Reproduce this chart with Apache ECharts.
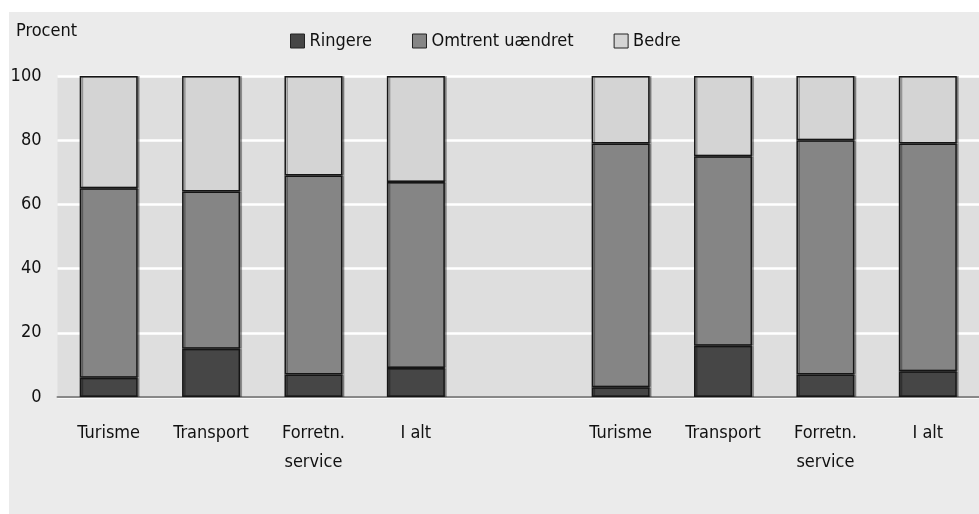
<!DOCTYPE html>
<html>
<head>
<meta charset="utf-8">
<script src="https://cdn.jsdelivr.net/npm/echarts@6/dist/echarts.min.js"></script>
<style>
  html, body { margin: 0; padding: 0; background: #fff; }
  #chart { width: 979px; height: 514px; }
</style>
</head>
<body>
<div id="chart"></div>
<script>
// Categories: two groups of four, empty slot in the middle
const categories = ["Turisme", "Transport", "Forretn.\nservice", "I alt", "", "Turisme", "Transport", "Forretn.\nservice", "I alt"];
const ringere = [6, 15, 7, 9, null, 3, 16, 7, 8];
const omtrent = [59, 49, 62, 58, null, 76, 59, 73, 71];
const bedre = [35, 36, 31, 33, null, 21, 25, 20, 21];
const yTicks = [0, 20, 40, 60, 80, 100];

const font = "'Liberation Sans Narrow', 'DejaVu Sans Condensed', sans-serif";

const chart = echarts.init(document.getElementById("chart"), null, { renderer: "canvas" });

// shared bar look
const barStyle = (color) => ({
  color,
  borderColor: "#151515",
  borderWidth: 1.5,
  shadowColor: "rgba(0,0,0,0.3)",
  shadowOffsetX: 2,
  shadowBlur: 0,
});

const mkSeries = (name, data, color) => ({
  name,
  type: "bar",
  stack: "total",
  data,
  barWidth: 58,
  itemStyle: barStyle(color),
  emphasis: { disabled: true },
});

chart.setOption({
  animation: false,
  backgroundColor: "#ffffff",
  graphic: [
    {
      type: "rect",
      z: -10,
      shape: { x: 9, y: 12, width: 975, height: 510 },
      style: { fill: "#ebebeb" },
    },
    {
      type: "text",
      left: 16,
      top: 22,
      style: { text: "Procent", font: "18px " + font, fill: "#111" },
    },
  ],
  legend: {
    top: 27,
    left: 285,
    icon: "rect",
    itemWidth: 14,
    itemHeight: 14,
    itemGap: 40,
    textStyle: { fontFamily: font, fontSize: 18, color: "#111" },
    itemStyle: { borderColor: "#222", borderWidth: 1 },
    data: ["Ringere", "Omtrent uændret", "Bedre"],
  },
  grid: {
    left: 57.5,
    right: -5.5,
    top: 76,
    bottom: 117,
    show: true,
    backgroundColor: "#dedede",
    borderWidth: 0,
  },
  xAxis: {
    type: "category",
    data: categories,
    axisTick: { show: false },
    axisLine: { lineStyle: { color: "#888", width: 2 } },
    axisLabel: {
      interval: 0,
      margin: 22,
      fontFamily: font,
      fontSize: 18,
      lineHeight: 29,
      color: "#111",
    },
  },
  yAxis: {
    type: "value",
    min: yTicks[0],
    max: yTicks[yTicks.length - 1],
    interval: 20,
    axisLine: { show: false },
    axisTick: { show: false },
    splitLine: { lineStyle: { color: "#ffffff", width: 2.5 } },
    axisLabel: { margin: 16, fontFamily: font, fontSize: 18, color: "#111" },
  },
  series: [
    mkSeries("Ringere", ringere, "#464646"),
    mkSeries("Omtrent uændret", omtrent, "#858585"),
    mkSeries("Bedre", bedre, "#d4d4d4"),
  ],
});
</script>
</body>
</html>
